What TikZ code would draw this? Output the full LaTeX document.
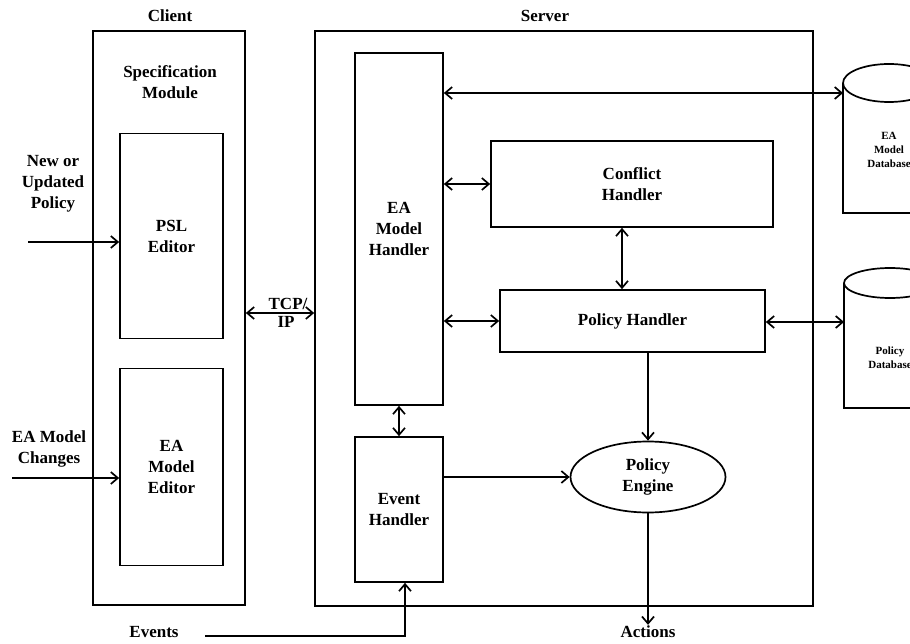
\documentclass[tikz,border=0pt]{standalone}
\usepackage{fontspec}
\setmainfont{Liberation Serif}
\usetikzlibrary{arrows.meta, positioning, shapes.geometric}

\begin{document}
\begin{tikzpicture}[
    x=1pt, y=-1pt,
    font=\fontsize{17}{21}\selectfont\bfseries,
    blk/.style={draw, line width=1.7pt, align=center, inner sep=0pt},
    lbl/.style={align=center, inner sep=1pt},
    dblbl/.style={align=center, inner sep=0pt, font=\fontsize{11}{14}\selectfont\bfseries},
    arr/.style={-{Straight Barb[length=7pt, width=12pt]}, line width=1.7pt},
    darr/.style={{Straight Barb[length=7pt, width=12pt]}-{Straight Barb[length=7pt, width=12pt]}, line width=1.7pt}
]
\useasboundingbox (0,0) rectangle (910,644);
\clip (0,0) rectangle (910,644);

% Client side
\node[blk, minimum width=152pt, minimum height=574pt] (client) at (169,318) {};
\node[lbl] (clientlbl) at (170,16) {Client};
\node[lbl] (spec) at (170,82) {Specification\\Module};
\node[blk, minimum width=103pt, minimum height=205pt] (psl) at (171.5,236) {PSL\\Editor};
\node[blk, minimum width=103pt, minimum height=197pt] (eaedit) at (171.5,467) {EA\\Model\\Editor};

% Inputs on the left
\node[lbl] (newpol) at (53,184) {New or\\Updated\\Policy};
\node[lbl] (eachg) at (49,449) {EA Model\\Changes};
\coordinate (newpolin) at (28,242);
\coordinate (eachgin) at (12,478);

% Server side
\node[blk, minimum width=498pt, minimum height=575pt] (server) at (564,318.5) {};
\node[lbl] (serverlbl) at (545,16) {Server};
\node[blk, minimum width=88pt, minimum height=352pt] (eah) at (399,229) {EA\\Model\\Handler};
\node[blk, minimum width=88pt, minimum height=145pt] (event) at (399,509.5) {Event\\Handler};
\node[blk, minimum width=282pt, minimum height=86pt] (conflict) at (632,184) {Conflict\\Handler};
\node[blk, minimum width=265pt, minimum height=62pt] (polh) at (632.5,321) {Policy Handler};
\node[blk, ellipse, minimum width=155pt, minimum height=71pt] (engine) at (648,477) {Policy\\Engine};

% Databases (cut by the right edge)
\draw[line width=1.7pt, fill=white] (843,83) -- (843,213) -- (935,213) -- (935,83);
\draw[line width=1.7pt, fill=white] (889,83) ellipse [x radius=46pt, y radius=19pt];
\node[dblbl] (eadb) at (889,150) {EA\\Model\\Database};
\coordinate (eadbin) at (843,93);

\draw[line width=1.7pt, fill=white] (844,283) -- (844,408) -- (936,408) -- (936,283);
\draw[line width=1.7pt, fill=white] (890,283) ellipse [x radius=46pt, y radius=15pt];
\node[dblbl] (poldb) at (890,358) {Policy\\Database};
\coordinate (poldbin) at (844,322);

% Bottom labels
\node[lbl] (events) at (154,632) {Events};
\node[lbl] (actions) at (648,632) {Actions};
\coordinate (evstart) at (205,636);

% Connectors
\draw[arr] (newpolin) -- (newpolin -| psl.west);
\draw[arr] (eachgin) -- (eachgin -| eaedit.west);
\draw[darr] (client.east |- 0,313) -- node[lbl, anchor=south, inner sep=0pt, xshift=8pt, yshift=2pt] {TCP/} node[lbl, anchor=north, inner sep=0pt, xshift=6pt, yshift=-3pt] {IP} (server.west |- 0,313);
\draw[darr] (eah.east |- eadbin) -- (eadbin);
\draw[darr] (eah.east |- conflict.west) -- (conflict.west);
\draw[darr] ([xshift=-10pt]conflict.south) -- ([xshift=-10pt]conflict.south |- polh.north);
\draw[darr] (eah.east |- polh.west) -- (polh.west);
\draw[darr] (polh.east |- poldbin) -- (poldbin);
\draw[arr] (polh.south -| engine.north) -- (engine.north);
\draw[darr] (eah.south) -- (event.north);
\draw[arr] (event.east |- engine.west) -- (engine.west);
\draw[arr] (engine.south) -- (actions.north);
\draw[arr] (evstart) -| ([xshift=6pt]event.south);

\end{tikzpicture}
\end{document}
